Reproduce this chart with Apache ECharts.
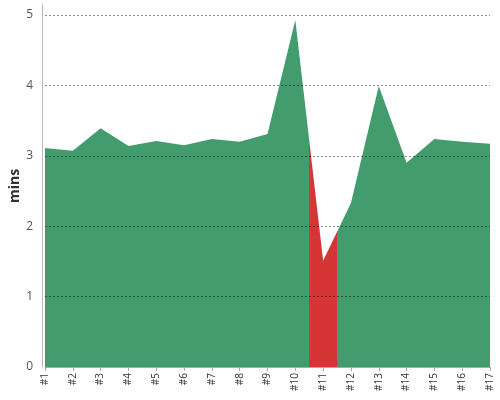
<!DOCTYPE html>
<html><head><meta charset="utf-8">
<script src="https://cdn.jsdelivr.net/npm/echarts@6/dist/echarts.min.js"></script>
<style>html,body{margin:0;padding:0;background:#fff}#c{width:500px;height:400px}</style>
</head><body><div id="c"></div>
<script>
const categories = ['#1','#2','#3','#4','#5','#6','#7','#8','#9','#10','#11','#12','#13','#14','#15','#16','#17'];
const values = [3.11,3.07,3.39,3.14,3.21,3.15,3.24,3.20,3.31,4.93,1.51,2.33,3.99,2.90,3.24,3.20,3.17];
const yTicks = [0,1,2,3,4,5];
const yTitle = 'mins';
const highlightCategory = '#11';

const hi = categories.indexOf(highlightCategory) + 1;
const chart = echarts.init(document.getElementById('c'));
chart.setOption({
  animation: false,
  grid: {left: 45, right: 10, top: 4, bottom: 33, outerBoundsMode: 'none', containLabel: false},
  graphic: [{
    type: 'text', x: 15, y: 186, rotation: Math.PI / 2,
    style: {text: yTitle, fontWeight: 'bold', fontSize: 14, fill: '#333', fontFamily: 'Open Sans',
      align: 'center', verticalAlign: 'middle'}
  }],
  xAxis: {
    type: 'value', min: 1, max: categories.length, interval: 1,
    splitLine: {show: false},
    axisLine: {lineStyle: {color: '#aaa'}},
    axisTick: {lineStyle: {color: '#aaa'}, length: 4},
    axisLabel: {rotate: 90, color: '#333', fontSize: 10, fontFamily: 'Open Sans', margin: 6,
      formatter: v => categories[v - 1] || ''}
  },
  yAxis: {
    type: 'value', min: 0, max: 5.156, interval: 1, offset: 3,
    axisLine: {show: true, lineStyle: {color: '#bbb'}},
    axisTick: {show: false},
    axisLabel: {color: '#555', fontSize: 12, fontFamily: 'Open Sans', margin: 9,
      formatter: v => yTicks.includes(v) ? String(v) : ''},
    splitLine: {show: false}
  },
  visualMap: {
    show: false, dimension: 0, seriesIndex: 0,
    pieces: [
      {lt: hi - 0.5, color: '#439c6e'},
      {gte: hi - 0.5, lte: hi + 0.5, color: '#d63536'},
      {gt: hi + 0.5, color: '#439c6e'}
    ]
  },
  series: [{
    type: 'line', data: values.map((v, i) => [i + 1, v]), symbol: 'none',
    lineStyle: {width: 0},
    areaStyle: {opacity: 1},
    markLine: {
      silent: true, symbol: 'none', label: {show: false},
      lineStyle: {type: [2, 2], color: 'rgba(0,0,0,0.45)', width: 1},
      data: yTicks.filter(v => v > 0).map(v => ({yAxis: v}))
    }
  }]
});
</script></body></html>
